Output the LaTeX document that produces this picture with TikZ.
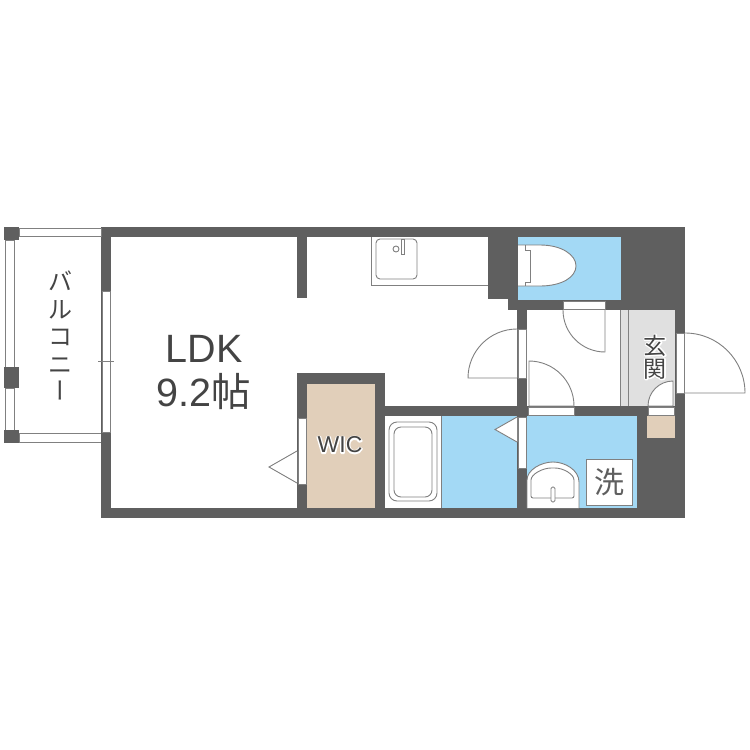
\documentclass[tikz,border=0pt]{standalone}
\usepackage{fontspec}
\setmainfont{Noto Sans CJK JP}
\newfontfamily\latinfont{Liberation Sans}
\definecolor{wallgray}{HTML}{5F5F5F}
\definecolor{linegray}{HTML}{808080}
\definecolor{wetblue}{HTML}{A3D9F5}
\definecolor{woodtan}{HTML}{E1CFBA}
\definecolor{floorgray}{HTML}{E0E0E0}
\definecolor{labelgray}{HTML}{444444}
\newcommand{\halo}[1]{\leavevmode\rlap{\special{pdf:code q 1 Tr 2.6 w 1 j 1 J 1 1 1 RG}#1\special{pdf:code Q}}#1}
\tikzset{
  wall/.style={fill=wallgray},
  opening/.style={fill=white,draw=linegray,line width=0.7pt},
  leaf/.style={fill=white,draw=linegray,line width=0.9pt},
  fixture/.style={draw=linegray,line width=0.9pt},
  roomlabel/.style={text=labelgray,inner sep=0pt,align=center}
}
\begin{document}
\begin{tikzpicture}[x=1pt,y=-1pt]
  \useasboundingbox (0,0) rectangle (750,750);
  \fill[white] (0,0) rectangle (750,750);

  \fill[wetblue] (518,237) rectangle (621,300);
  \fill[wetblue] (442,416) rectangle (517,508);
  \fill[wetblue] (527,416) rectangle (637,508);
  \fill[woodtan] (307,384) rectangle (375,508);
  \fill[floorgray] (620,310) rectangle (675,406);
  \draw[fixture] (620.5,310) -- (620.5,406) (628.5,310) -- (628.5,406);
  \draw[linegray,line width=0.8pt] (441.5,416) -- (441.5,508);

  \foreach \xa/\ya/\xb/\yb in {
    101/227/685/237, 101/227/111/518, 101/508/685/518, 297/237/307/298,
    297/373/385/384, 297/373/307/508, 375/373/385/508, 385/406/675/416,
    517/300/527/518, 488/237/518/299, 508/299/518/310, 518/300/675/310,
    621/237/685/310, 675/310/685/518, 637/416/685/508} {
    \fill[wall] (\xa,\ya) rectangle (\xb,\yb);
  }
  \fill[woodtan] (647,416) rectangle (675,438);

  \foreach \xa/\ya/\xb/\yb in {
    102/291/110/432, 298/418/306/484, 518/329/526/378, 518/417/526/468,
    563/301/605/309, 528/407/574/415, 648/407/674/415, 676/333/684/393} {
    \draw[opening] (\xa,\ya) rectangle (\xb,\yb);
  }
  \draw[linegray,line width=0.7pt] (98,361) -- (114,361);

  \draw[leaf] (517,329) arc[start angle=270,end angle=180,radius=49] -- (517,378);
  \draw[leaf] (563,310) arc[start angle=180,end angle=90,radius=42] -- (605,310);
  \draw[leaf] (529,361) arc[start angle=-90,end angle=0,radius=45] -- (529,406) -- cycle;
  \draw[leaf] (685,333) arc[start angle=-90,end angle=0,radius=60] -- (685,393);
  \draw[leaf] (673,381) arc[start angle=270,end angle=180,radius=25] -- (673,406) -- cycle;
  \draw[leaf] (297,451) -- (269,467) -- (297,483);
  \fill[white] (517,417) -- (495,429.500) -- (517,442) -- cycle;
  \draw[leaf] (517,417) -- (495,429.500) -- (517,442);

  \draw[fixture,fill=white] (5,240) rectangle (14,367) (5,388) rectangle (14,430);
  \draw[fixture,fill=white] (19,228) rectangle (101,236.500) (19,433.500) rectangle (101,442.500);
  \foreach \ya/\yb in {227/240, 367/388, 430/443} {
    \fill[wall] (4,\ya) rectangle (19,\yb);
  }
  \fill[wall] (101,433) rectangle (111,450);

  \draw[fixture] (371,237) -- (371,285) -- (488,285);
  \draw[fixture,rounded corners=4pt] (376,239) rectangle (417,279);
  \draw[fixture] (396,249) circle(3);
  \draw[fixture] (401,239) rectangle (404,254);

  \draw[leaf] (518,245) -- (540,245) .. controls (562,245) and (576,255) .. (576,266)
    .. controls (576,277) and (562,286) .. (540,286) -- (518,286);
  \draw[fixture] (525,245) -- (525,250) -- (530,250) -- (530,282) -- (525,282) -- (525,286);

  \draw[fixture,fill=white,rounded corners=8pt] (389,422) rectangle (437,501);
  \draw[fixture,rounded corners=7pt] (394,427) rectangle (432,497);

  \draw[leaf] (527,508) -- (527,480) .. controls (527,470) and (541,462) .. (553,462)
    .. controls (565,462) and (579,470) .. (579,482) -- (579,508);
  \draw[fixture,rounded corners=2pt] (531,498) -- (531,482) .. controls (531,474) and (543,468) .. (553,468)
    .. controls (563,468) and (574,474) .. (574,482) -- (574,498) -- cycle;
  \draw[fixture,fill=white,rounded corners=1.500pt] (551,487) rectangle (555,502);

  \node[roomlabel,font=\fontsize{39.500}{44}\selectfont] (ldk) at (204,372) {{\latinfont LDK}\\{\latinfont 9.2}帖};
  \node[roomlabel,font=\fontsize{23}{24}\selectfont\latinfont] (wic) at (340,445) {\halo{WIC}};
  \node[roomlabel,font=\fontsize{23}{23}\selectfont] (genkan) at (655,357) {\halo{玄}\\\halo{関}};
  \node[fill=white,draw=linegray,line width=0.8pt,minimum width=46pt,minimum height=46pt,inner sep=0pt,
    text=wallgray,font=\fontsize{30}{30}\selectfont] (sentaku) at (609,482) {洗};
  \node[roomlabel,font=\fontsize{24}{27.500}\selectfont] (balcony) at (60,337)
    {バ\\ル\\コ\\ニ\\\hspace*{8pt}\raisebox{5pt}{\rotatebox[origin=c]{90}{ー}}};
\end{tikzpicture}
\end{document}
